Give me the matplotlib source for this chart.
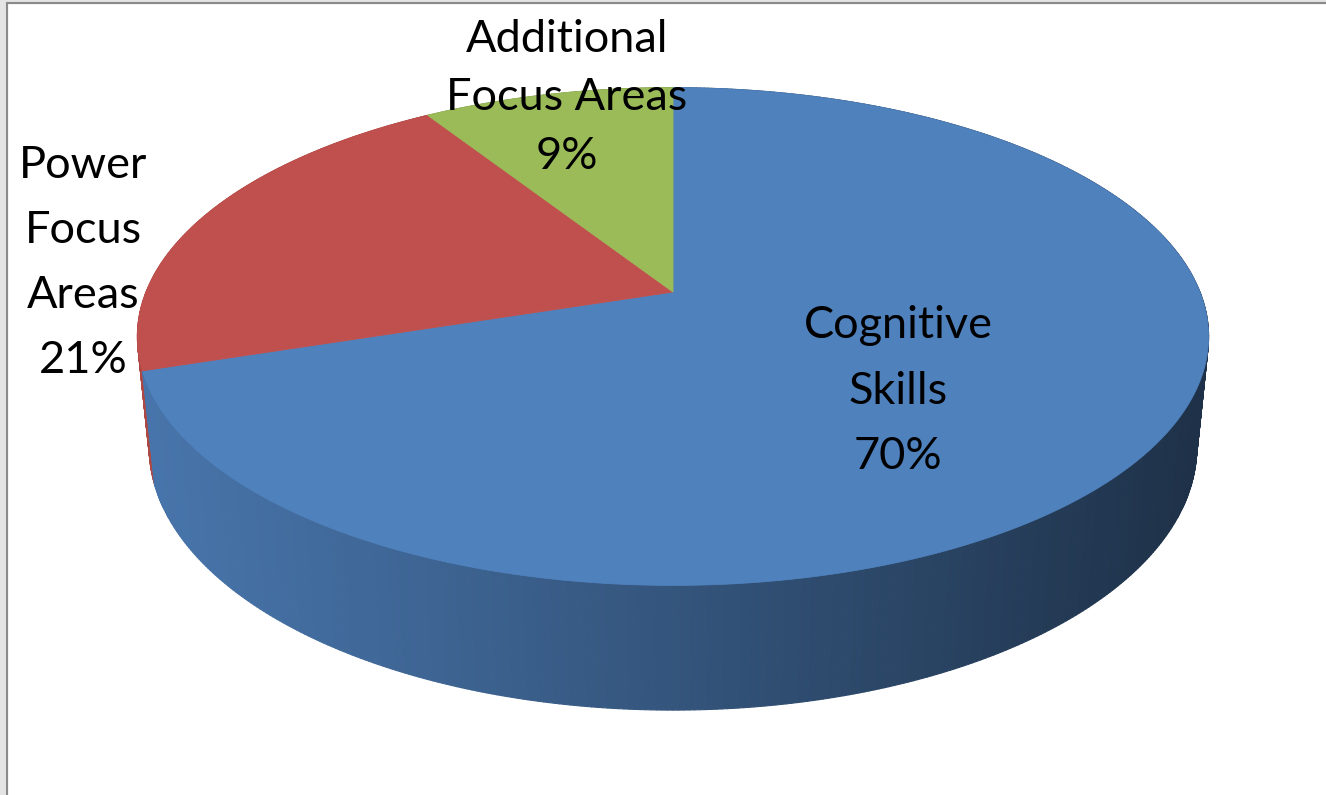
import numpy as np
import matplotlib
matplotlib.use("Agg")
import matplotlib.pyplot as plt
from matplotlib.collections import PolyCollection
from matplotlib.colors import to_rgb

# ---- data ----
categories = ["Cognitive Skills", "Power Focus Areas", "Additional Focus Areas"]
values = [70, 21, 9]
labels = ["Cognitive\nSkills\n70%", "Power\nFocus\nAreas\n21%", "Additional\nFocus Areas\n9%"]
colors = ["#4f81bd", "#c0504d", "#9bbb59"]

# ---- layout / camera (style) ----
W, H = 1326, 795
fig = plt.figure(figsize=(W / 100, H / 100), dpi=100)
ax = fig.add_axes([0, 0, 1, 1])
ax.set_xlim(0, W)
ax.set_ylim(H, 0)
ax.axis("off")

phi = np.deg2rad(27.2)
cph, sph = np.cos(phi), np.sin(phi)
Dcam, fcam = 4.97, 2619.0
X0, Y0 = 673.0, 292.0
depth = 0.238


def proj(u, v, z):
    yc = v * sph + z * cph
    d = Dcam + v * cph - z * sph
    return X0 + fcam * u / d, Y0 - fcam * yc / d


# slice angles (clockwise from 12 o'clock)
total = float(sum(values))
bounds = 90 - 360 * np.concatenate([[0], np.cumsum(values)]) / total

# ---- side wall ----
polys, fcols, keys = [], [], []
for i, col in enumerate(colors):
    a0, a1 = bounds[i], bounds[i + 1]
    n = max(int(abs(a1 - a0) * 2), 2)
    th = np.deg2rad(np.linspace(a0, a1, n + 1))
    base = np.array(to_rgb(col))
    for k in range(n):
        t0, t1 = th[k], th[k + 1]
        u0, v0, u1, v1 = np.cos(t0), np.sin(t0), np.cos(t1), np.sin(t1)
        p = [proj(u0, v0, 0), proj(u1, v1, 0), proj(u1, v1, -depth), proj(u0, v0, -depth)]
        xm = 0.5 * (p[0][0] + p[1][0])
        tt = np.clip((xm - 145) / (1200 - 145), 0, 1)
        shade = 0.90 - 0.52 * tt ** 1.1
        polys.append(p)
        fcols.append(np.clip(base * shade, 0, 1))
        keys.append(0.5 * (v0 + v1))
order = np.argsort(keys)[::-1]
pc = PolyCollection([polys[j] for j in order], facecolors=[fcols[j] for j in order],
                    edgecolors=[fcols[j] for j in order], linewidths=0.8, zorder=2)
ax.add_collection(pc)

# ---- top face ----
for i, col in enumerate(colors):
    th = np.deg2rad(np.linspace(bounds[i], bounds[i + 1], 300))
    xs, ys = proj(np.cos(th), np.sin(th), 0 * th)
    cx, cy = proj(0.0, 0.0, 0.0)
    ax.fill(np.concatenate([[cx], xs]), np.concatenate([[cy], ys]),
            color=col, lw=0.6, ec=col, zorder=3)

# ---- labels ----
font = dict(family="Lato", fontsize=32.5, color="#000000", ha="center", va="center", zorder=5)
ax.text(898, 391, labels[0], linespacing=1.73, **font)
ax.text(83, 263, labels[1], linespacing=1.73, **font)
ax.text(567, 98, labels[2], linespacing=1.52, **font)

# ---- frame ----
ax.add_patch(plt.Rectangle((0, 0), 7, H, color="#e4e4e4", zorder=0))
ax.plot([7, 7], [3, H], color="#8a8a8a", lw=1.5, zorder=6)
ax.plot([7, W], [3, 3], color="#8a8a8a", lw=1.5, zorder=6)
ax.add_patch(plt.Rectangle((0, 0), W, 2.5, color="#e4e4e4", zorder=0))

fig.savefig("out.png", dpi=100, facecolor="white")
